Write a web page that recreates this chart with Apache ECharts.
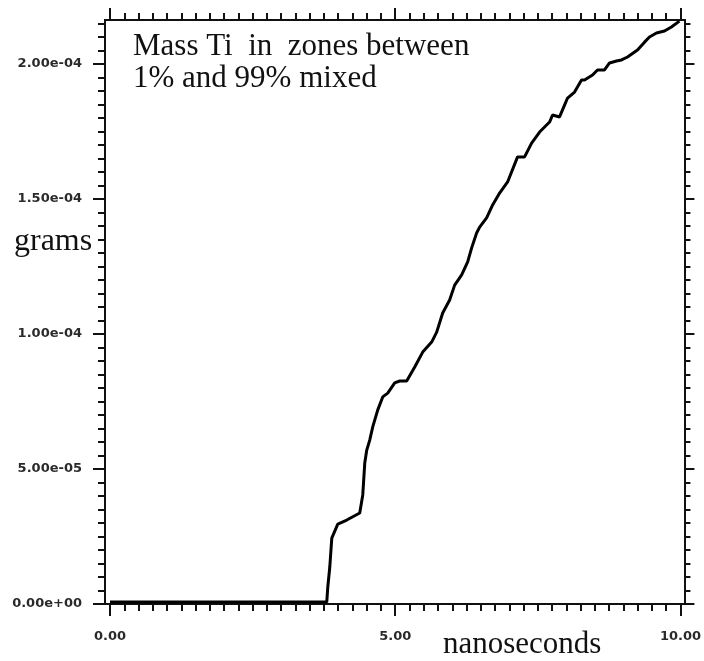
<!DOCTYPE html>
<html>
	<head>
		<meta charset="UTF-8">
		<title>Mass Ti</title>
	</head>
<style type="text/css">
	body{margin: 0;padding: 0;background: #fff;}
	#chart{width: 704px;height: 661px;}
</style>
	<body>
		<div id="chart"></div>
		<script src="https://cdn.jsdelivr.net/npm/echarts@6/dist/echarts.min.js"></script>
		<script>
			// time in nanoseconds, mass in grams
			let times = [0, 3.800, 3.818, 3.853, 3.888, 3.993, 4.151, 4.378, 4.413, 4.431, 4.466, 4.501,
				4.553, 4.606, 4.694, 4.781, 4.869, 4.991, 5.079, 5.201, 5.342, 5.482, 5.639, 5.727,
				5.832, 5.954, 6.042, 6.165, 6.270, 6.340, 6.427, 6.480, 6.602, 6.708, 6.830, 6.970,
				7.145, 7.268, 7.391, 7.531, 7.706, 7.758, 7.881, 7.968, 8.021, 8.144, 8.266, 8.319,
				8.459, 8.546, 8.669, 8.757, 8.879, 8.967, 9.072, 9.247, 9.370, 9.457, 9.580, 9.720,
				9.842, 9.982];
			let mass = [0.007e-4, 0.007e-4, 0.063e-4, 0.137e-4, 0.244e-4, 0.296e-4, 0.311e-4, 0.337e-4,
				0.344e-4, 0.404e-4, 0.522e-4, 0.570e-4, 0.607e-4, 0.656e-4, 0.719e-4, 0.767e-4, 0.781e-4,
				0.819e-4, 0.826e-4, 0.826e-4, 0.878e-4, 0.933e-4, 0.970e-4, 1.007e-4, 1.078e-4, 1.126e-4,
				1.181e-4, 1.219e-4, 1.267e-4, 1.319e-4, 1.374e-4, 1.396e-4, 1.430e-4, 1.478e-4, 1.522e-4,
				1.563e-4, 1.656e-4, 1.656e-4, 1.707e-4, 1.748e-4, 1.785e-4, 1.811e-4, 1.804e-4, 1.848e-4,
				1.874e-4, 1.896e-4, 1.941e-4, 1.941e-4, 1.959e-4, 1.978e-4, 1.978e-4, 2.004e-4, 2.011e-4,
				2.015e-4, 2.026e-4, 2.052e-4, 2.081e-4, 2.100e-4, 2.115e-4, 2.122e-4, 2.137e-4, 2.159e-4];

			let xMajor = [0, 5, 10];
			let xLabels = ['0.00', '5.00', '10.00'];
			let yMajor = [0, 5e-5, 1e-4, 1.5e-4, 2e-4];
			let yLabels = ['0.00e+00', '5.00e-05', '1.00e-04', '1.50e-04', '2.00e-04'];

			let xMinor = [];
			for (let i = 0; i <= 40; i++) xMinor.push(i * 0.25);
			let yMinor = [];
			for (let i = 0; i <= 43; i++) yMinor.push(i * 5e-6);

			const X_MIN = -0.0876, X_MAX = 10.07;
			const Y_MIN = 0, Y_MAX = 2.163e-4;
			const INK = '#111';

			function pick(list, names, v) {
				for (let i = 0; i < list.length; i++) {
					if (Math.abs(list[i] - v) < 1e-9) return names[i];
				}
				return '';
			}

			let labelStyle = {
				color: '#2a2a2a', fontFamily: 'DejaVu Sans', fontWeight: 'bold', fontSize: 13
			};

			function axis(type, pos, ticks, len, labels) {
				let a = {
					type: 'value', position: pos,
					min: type === 'x' ? X_MIN : Y_MIN,
					max: type === 'x' ? X_MAX : Y_MAX,
					axisLine: {show: true, onZero: false, lineStyle: {color: INK, width: 2}},
					axisTick: {show: true, customValues: ticks, length: len, lineStyle: {color: INK, width: 2}},
					splitLine: {show: false},
					axisLabel: {show: false}
				};
				if (labels) {
					a.axisLabel = Object.assign({
						show: true,
						customValues: type === 'x' ? xMajor : yMajor,
						margin: type === 'x' ? 26 : 23,
						formatter: function (v) {
							return type === 'x' ? pick(xMajor, xLabels, v) : pick(yMajor, yLabels, v);
						}
					}, labelStyle);
				}
				return a;
			}

			let serif = {fontFamily: 'Liberation Serif', fontWeight: 'normal', color: INK};

			let chart = echarts.init(document.getElementById('chart'));
			chart.setOption({
				animation: false,
				backgroundColor: '#fff',
				title: [
					{text: 'Mass Ti  in  zones between\n1% and 99% mixed', left: 133, top: 31, padding: 0,
						textStyle: Object.assign({fontSize: 31, lineHeight: 32}, serif)},
					{text: 'grams', left: 14, top: 226, padding: 0,
						textStyle: Object.assign({fontSize: 32}, serif)},
					{text: 'nanoseconds', left: 443, top: 629, padding: 0,
						textStyle: Object.assign({fontSize: 31}, serif)}
				],
				grid: {left: 105, right: 19, top: 20, bottom: 57},
				xAxis: [
					axis('x', 'bottom', xMajor, 12, true),
					axis('x', 'bottom', xMinor, 7, false),
					axis('x', 'top', xMajor, 12, false),
					axis('x', 'top', xMinor, 7, false)
				],
				yAxis: [
					axis('y', 'left', yMajor, 12, true),
					axis('y', 'left', yMinor, 7, false),
					axis('y', 'right', yMajor, 10, false),
					axis('y', 'right', yMinor, 6, false)
				],
				series: [{
					type: 'line',
					xAxisIndex: 0, yAxisIndex: 0,
					showSymbol: false,
					lineStyle: {color: '#000', width: 3},
					data: times.map(function (t, i) { return [t, mass[i]]; })
				}]
			});
		</script>
	</body>
</html>
